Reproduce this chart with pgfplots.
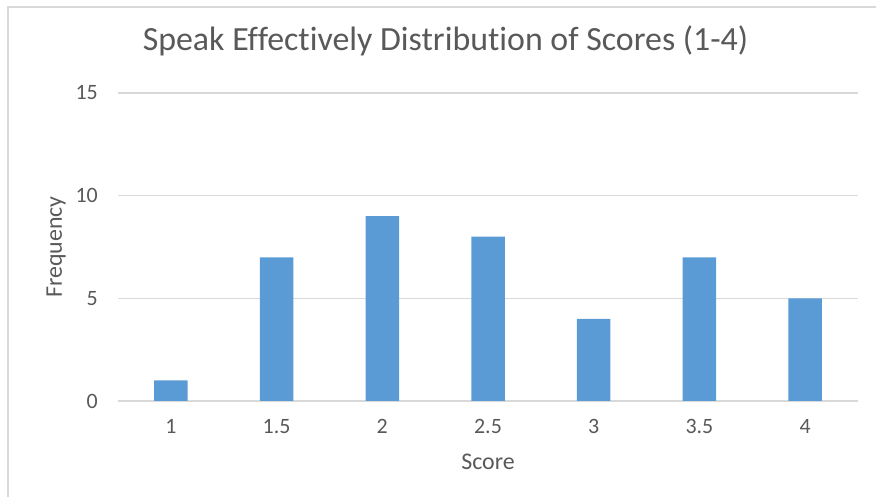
\documentclass[border=0pt]{standalone}
\usepackage{fontspec}
\setmainfont{Carlito}[Ligatures=NoCommon]
\usepackage{pgfplots}
\pgfplotsset{compat=1.18}
\definecolor{barblue}{HTML}{5B9BD5}
\definecolor{gridgray}{HTML}{D9D9D9}
\definecolor{textgray}{HTML}{595959}
\begin{document}
\begin{tikzpicture}
\useasboundingbox (0bp,0bp) rectangle (876bp,497bp);
\draw[gridgray, line width=1.5bp] (8bp,0bp) -- (8bp,490bp) -- (876bp,490bp);
\begin{axis}[
  at={(118bp,96bp)}, anchor=south west,
  scale only axis, width=740bp, height=308bp,
  xmin=-0.5, xmax=6.5, ymin=0, ymax=15,
  ytick={0,5,10,15},
  xtick={0,...,6},
  xticklabels={1,1.5,2,2.5,3,3.5,4},
  axis line style={draw=none},
  major tick length=0pt,
  ymajorgrids,
  grid style={gridgray, line width=1.2bp},
  tick label style={font=\fontsize{22}{26}\selectfont, text=textgray, inner sep=0pt},
  /pgf/number format/assume math mode=true,
  yticklabel style={anchor=east, xshift=-20bp},
  xticklabel style={anchor=base, yshift=-33bp},
  title={Speak Effectively Distribution of Scores (1-4)},
  title style={at={(0.4426,1.120)}, anchor=base, font=\fontsize{34}{40}\selectfont, text=textgray, inner sep=0pt},
  xlabel={Score},
  xlabel style={at={(0.5,-0.2208)}, anchor=base, font=\fontsize{24}{28}\selectfont, text=textgray, inner sep=0pt},
  ylabel={Frequency},
  ylabel style={at={(-0.0757,0.5)}, anchor=base, rotate=0, font=\fontsize{24}{28}\selectfont, text=textgray, inner sep=0pt},
  ybar, bar width=33.5bp,
  clip=false,
]
\addplot[fill=barblue, draw=none] coordinates {(0,1) (1,7) (2,9) (3,8) (4,4) (5,7) (6,5)};
\end{axis}
\end{tikzpicture}
\end{document}
